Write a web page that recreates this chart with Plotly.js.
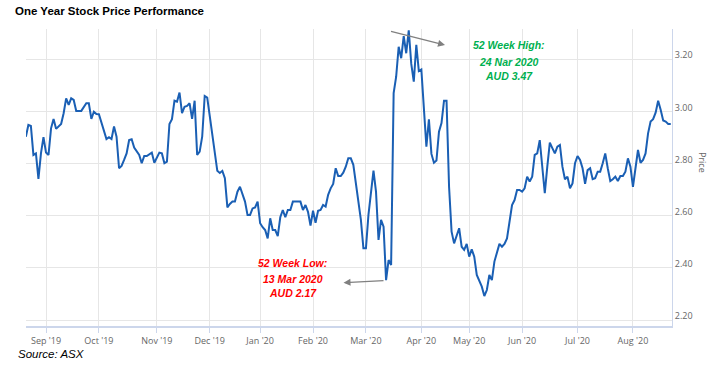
<!DOCTYPE html>
<html>
<head>
<meta charset="utf-8">
<script src="https://cdn.plot.ly/plotly-3.0.1.min.js"></script>
<style>html,body{margin:0;padding:0;background:#fff;}#chart{width:711px;height:368px;}</style>
</head>
<body>
<div id="chart"></div>
<script>
// Trading-day index (0 = first trading day of Sep 2019)
const tradingDay = [-8,-7,-6,-5,-4,-3,-2,-1,0,1,2,3,4,6,7,8,9,10,11,12,14,15,16,17,18,19,20,21,23,24,
25,26,27,28,29,30,31,32,33,34,35,36,37,38,39,40,42,43,44,45,46,47,48,49,50,51,52,53,54,55,
56,57,58,59,60,61,62,63,64,66,68,69,70,71,72,73,74,75,76,77,78,79,80,81,82,83,84,85,86,87,
88,89,90,91,92,93,94,95,96,97,98,100,101,102,103,104,105,106,107,108,109,110,111,112,113,114,115,116,117,118,
119,120,121,122,123,124,125,126,127,128,129,130,131,132,133,134,135,136,137,138,139,140,141,142,143,144,145,146,147,148,
149,150,151,152,153,154,155,156,157,158,159,160,161,162,163,164,165,166,167,168,169,170,171,172,173,174,175,176,177,178,
179,180,181,182,183,184,185,186,187,188,189,190,191,192,193,194,195,196,197,198,199,200,201,202,203,204,205,206,207,208,
209,210,211,212,213,214,215,216,217,218,219,220,221,222,223,224,225,226,227,228,229,230,231,232,233,234,235,236,237,238,
239,240,241,242,243,244,245,246,247,248];

// Closing price (AUD)
const closePrice = [2.903,2.948,2.944,2.833,2.839,2.741,2.839,2.901,2.842,2.833,2.935,2.971,2.933,2.952,2.993,3.050,3.025,3.050,3.044,3.002,3.002,3.018,3.031,3.031,2.971,2.999,2.990,2.989,2.929,2.894,
2.901,2.894,2.942,2.903,2.782,2.791,2.814,2.839,2.890,2.893,2.861,2.846,2.833,2.801,2.829,2.829,2.842,2.803,2.820,2.842,2.839,2.801,2.807,2.952,2.970,3.041,3.037,3.072,2.993,3.018,
3.021,3.031,2.971,3.041,2.833,2.846,2.903,3.059,3.053,2.921,2.772,2.764,2.772,2.744,2.632,2.645,2.654,2.654,2.692,2.711,2.680,2.654,2.603,2.603,2.628,2.632,2.654,2.571,2.556,2.545,
2.513,2.590,2.545,2.545,2.522,2.594,2.622,2.594,2.622,2.622,2.654,2.654,2.654,2.622,2.641,2.615,2.562,2.619,2.573,2.619,2.622,2.641,2.635,2.680,2.705,2.722,2.782,2.752,2.752,2.765,
2.788,2.820,2.820,2.795,2.724,2.648,2.584,2.475,2.475,2.603,2.692,2.773,2.692,2.507,2.584,2.558,2.353,2.430,2.411,3.070,3.133,3.248,3.204,3.289,3.223,3.311,3.182,3.114,3.255,3.155,
3.161,3.031,2.865,2.970,2.837,2.803,2.812,2.922,2.955,3.041,3.041,2.711,2.539,2.494,2.520,2.552,2.481,2.469,2.492,2.443,2.471,2.443,2.373,2.347,2.328,2.292,2.315,2.373,2.353,2.424,
2.456,2.492,2.481,2.492,2.513,2.584,2.641,2.660,2.699,2.699,2.692,2.705,2.750,2.731,2.750,2.833,2.839,2.890,2.795,2.686,2.788,2.880,2.859,2.839,2.865,2.871,2.788,2.740,2.750,2.705,
2.724,2.801,2.829,2.814,2.782,2.722,2.775,2.782,2.740,2.744,2.769,2.769,2.801,2.839,2.782,2.733,2.740,2.750,2.733,2.752,2.752,2.769,2.820,2.788,2.711,2.782,2.852,2.803,2.814,2.839,
2.916,2.961,2.970,2.995,3.041,3.006,2.965,2.961,2.952,2.952];

// Month-start tick positions and labels
const monthTickDays = [0,21,44,65,85,106,127,149,168,189,211,233];
const monthTickLabels = ["Sep '19","Oct '19","Nov '19","Dec '19","Jan '20","Feb '20","Mar '20","Apr '20","May '20","Jun '20","Jul '20","Aug '20"];
const priceTicks = [2.2,2.4,2.6,2.8,3.0,3.2];

const highLines = ["52 Week High:","24 Nar 2020","AUD 3.47"];
const lowLines = ["52 Week Low:","13 Mar 2020","AUD 2.17"];

const tickFont = {family:"Open Sans, sans-serif", size:9, color:"#666666"};
const noteFont = (c) => ({family:"Liberation Sans, Arial, sans-serif", size:10.5, color:c});

const annotations = [];
const highY = [0.9461,0.8899,0.8418];
highLines.forEach((t,i)=>annotations.push({xref:'paper',yref:'paper',x:0.7477,y:highY[i],xanchor:'center',yanchor:'middle',
  text:'<b><i>'+t+'</i></b>',showarrow:false,font:noteFont('#00b050')}));
const lowY = [0.2111,0.1582,0.1101];
lowLines.forEach((t,i)=>annotations.push({xref:'paper',yref:'paper',x:0.4133,y:lowY[i],xanchor:'center',yanchor:'middle',
  text:'<b><i>'+t+'</i></b>',showarrow:false,font:noteFont('#ff0000')}));
// arrows
annotations.push({xref:'paper',yref:'paper',x:0.6486,y:0.9461,text:'',showarrow:true,ax:-55.5,ay:-14,
  arrowhead:2,arrowsize:1,arrowwidth:1.4,arrowcolor:'#808080',standoff:0,startstandoff:0});
annotations.push({xref:'paper',yref:'paper',x:0.4915,y:0.1458,text:'',showarrow:true,ax:41.5,ay:-2.2,
  arrowhead:2,arrowsize:1,arrowwidth:1.4,arrowcolor:'#808080',standoff:0,startstandoff:0});
// axis title
annotations.push({xref:'paper',yref:'paper',x:1.0464,y:0.549,text:'Price',textangle:90,showarrow:false,
  xanchor:'center',yanchor:'middle',font:{family:"Open Sans, sans-serif",size:9,color:'#666666'}});
// source
annotations.push({xref:'paper',yref:'paper',x:-0.0155,y:-0.0943,xanchor:'left',yanchor:'middle',
  text:'<i>Source: ASX</i>',showarrow:false,font:{family:"Liberation Sans, Arial, sans-serif",size:11.5,color:'#000000'}});

const trace = {x:tradingDay, y:closePrice, type:'scatter', mode:'lines',
  line:{color:'#1a5fb4', width:2}, hoverinfo:'skip'};

const layout = {
  width:711, height:368,
  margin:{l:26, r:39, t:29, b:42, pad:0},
  paper_bgcolor:'#ffffff', plot_bgcolor:'#ffffff',
  showlegend:false,
  title:{text:'<b>One Year Stock Price Performance</b>', xref:'container', yref:'container', x:0.0211, y:0.97,
    xanchor:'left', yanchor:'middle', font:{family:"Liberation Sans, Arial, sans-serif", size:11.5, color:'#000000'}},
  xaxis:{range:[-7.94,248.5], tickmode:'array', tickvals:monthTickDays, ticktext:monthTickLabels,
    showgrid:true, gridcolor:'#e6e6e6', gridwidth:1, zeroline:false,
    showline:true, linecolor:'#ccd6eb', linewidth:2, ticks:'outside', ticklen:5, tickcolor:'#ccd6eb', tickwidth:1,
    tickfont:tickFont, fixedrange:true},
  yaxis:{side:'right', range:[2.177,3.316], tickmode:'array', tickvals:priceTicks, tickformat:'.2f',
    showgrid:true, gridcolor:'#e6e6e6', gridwidth:1, zeroline:false, ticklabelshift:-4,
    showline:true, linecolor:'#ccd6eb', linewidth:1, ticks:'', tickfont:tickFont, fixedrange:true},
  annotations:annotations
};

Plotly.newPlot('chart',[trace],layout,{staticPlot:true, displayModeBar:false});
</script>
</body>
</html>
